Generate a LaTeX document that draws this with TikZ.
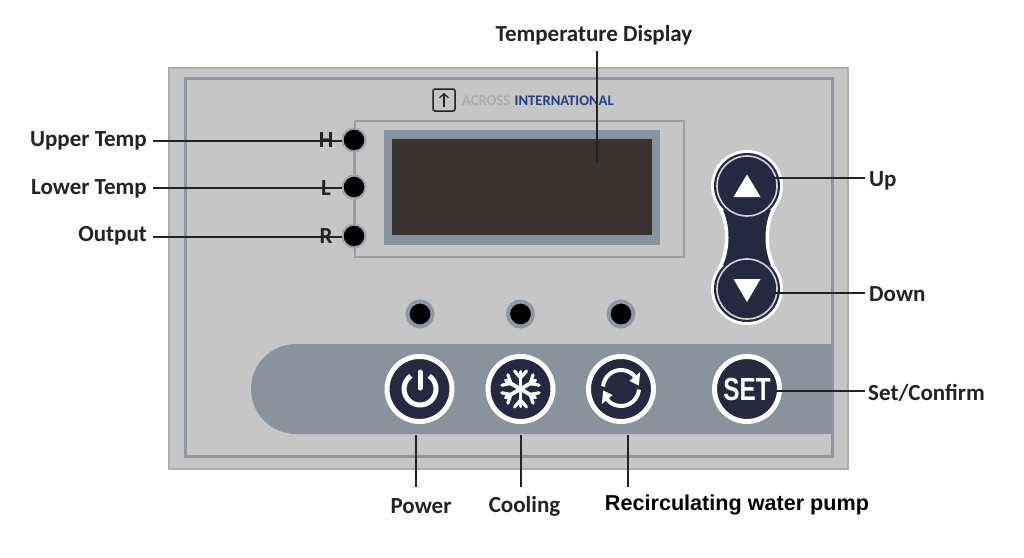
\documentclass[tikz,border=0pt]{standalone}
\usepackage{fontspec}
\setmainfont{Carlito}
\newfontfamily\armain{Liberation Sans}
\usetikzlibrary{arrows.meta}
\definecolor{panel}{HTML}{C6C6C6}
\definecolor{panedge}{HTML}{AEAEAE}
\definecolor{steel}{HTML}{8A939D}
\definecolor{frameline}{HTML}{8F98A2}
\definecolor{screen}{HTML}{38332F}
\definecolor{navy}{HTML}{262840}
\definecolor{ink}{HTML}{232323}
\definecolor{logoblue}{HTML}{24407F}
\tikzset{
  lbl/.style={inner sep=0pt,font=\fontsize{23}{24}\selectfont\bfseries,text=ink},
  lead/.style={draw=ink,line width=1.8pt},
  letter/.style={inner sep=0pt,font=\fontsize{23}{24}\selectfont\bfseries,text=ink},
  dotk/.style={circle,inner sep=0pt,minimum size=23pt,fill=black,draw=frameline!70!panel,line width=2.2pt},
  led/.style={circle,inner sep=0pt,minimum size=25pt,fill=black,draw=frameline,line width=4pt},
  btn/.style={circle,inner sep=0pt,minimum size=65pt,fill=navy,draw=white,line width=5pt},
  icon/.style={draw=white,line cap=round},
  udwhite/.style={circle,inner sep=0pt,minimum size=72pt,fill=white},
  udnavy/.style={circle,inner sep=0pt,minimum size=66pt,fill=navy},
  udring/.style={draw=white!80!navy,line width=1.6pt},
}
\begin{document}
\begin{tikzpicture}[x=1pt,y=-1pt]
\useasboundingbox (0,0) rectangle (1024,557);
\fill[white] (0,0) rectangle (1024,557);
% panel
\filldraw[fill=panel,draw=panedge,line width=2pt] (169,68) rectangle (848,469);
\draw[frameline,line width=3pt] (185,78) rectangle (832,456);
\fill[steel] (832,344) -- (296,344) arc[start angle=270,end angle=90,radius=45] -- (832,434) -- cycle;
% logo
\node[draw=ink,line width=1.5pt,rounded corners=2pt,minimum size=22pt,inner sep=0pt] (logo) at (444,100) {};
\coordinate (la) at (444,93); \coordinate (lb) at (444,107);
\draw[ink,line width=1.2pt,-{Straight Barb[length=4pt,width=9pt]}] (lb) -- (la);
\node[anchor=west,inner sep=0pt,text=black!32,font=\fontsize{15}{16}\selectfont\bfseries] (across) at (462,100.5) {\scalebox{.97}[1]{ACROSS}};
\node[anchor=west,inner sep=0pt,text=logoblue,font=\fontsize{14.6}{16}\selectfont\bfseries] (intl) at (514.5,100.5) {INTERNATIONAL};
% display
\draw[frameline!85!panel,line width=1.8pt] (355,121) rectangle (684,257);
\fill[steel] (384,130) rectangle (660,245);
\fill[screen] (392,139) rectangle (652,235);
% indicators
\node[dotk] (h) at (354,140) {};
\node[dotk] (l) at (354,187) {};
\node[dotk] (r) at (354,236) {};
\draw[frameline!85!panel,line width=1.8pt] (h) -- (l) (l) -- (r);
% LEDs
\node[led] (led1) at (420,314) {};
\node[led] (led2) at (520.5,314) {};
\node[led] (led3) at (621,314) {};
% up down body
\node[udwhite] (upw) at (747,186) {};
\node[udwhite] (downw) at (747,289) {};
\filldraw[fill=navy,draw=white,line width=3.5pt] (720,208) .. controls (729,225) and (729,250) .. (720,267) -- (774,267) .. controls (765,250) and (765,225) .. (774,208) -- cycle;
\node[udnavy] (up) at (747,186) {};
\node[udnavy] (down) at (747,289) {};
\fill[navy] (732,212) rectangle (762,266);
\draw[udring] (up) circle[radius=30];
\draw[udring] (down) circle[radius=30];
\fill[white] (747,174.5) -- (760.5,197) -- (733.5,197) -- cycle;
\fill[white] (733.5,279) -- (760.5,279) -- (747,302) -- cycle;
% round buttons
\node[btn] (power) at (419.5,389) {};
\node[btn] (cool) at (520.5,389) {};
\node[btn] (pump) at (621,389) {};
\node[btn,font=\armain\fontsize{32}{33}\selectfont\bfseries,text=white] (set) at (747,389) {\scalebox{.76}[1]{SET}};
% power icon
\draw[icon,line width=5pt,line cap=butt] (429.2,375.9) arc[start angle=-55,end angle=235,radius=16];
\draw[icon,line width=5pt] (420,372) -- (420,388);
% snowflake
\begin{scope}[shift={(520.5,389)}]
\foreach \a in {0,60,...,300}{
  \begin{scope}[rotate=\a]
    \draw[icon,line width=3.8pt] (0,0) -- (0,-17);
    \draw[icon,line width=3.2pt] (-6,-18) -- (0,-11) -- (6,-18);
  \end{scope}
}
\end{scope}
% pump icon
\begin{scope}[shift={(621,388)}]
\draw[icon,line width=4pt,line cap=butt] (-175:18) arc[start angle=-175,end angle=-38,radius=18];
\draw[icon,line width=4pt,line cap=butt] (5:18) arc[start angle=5,end angle=142,radius=18];
\fill[white] (8.4,-7.1) -- (19.2,-16) -- (17.8,-2.5) -- cycle;
\fill[white] (-8.4,7.1) -- (-19.2,16) -- (-17.8,2.5) -- cycle;
\end{scope}
% leaders
\node[lbl,anchor=east] (tu) at (147,140.5) {Upper Temp};
\node[lbl,anchor=east] (tl) at (147,188.5) {Lower Temp};
\node[lbl,anchor=east] (to) at (147,236) {Output};
\coordinate (au) at (153,141); \coordinate (bu) at (342,141);
\coordinate (al) at (153,188); \coordinate (bl) at (342,188);
\coordinate (ao) at (153,237); \coordinate (bo) at (342,237);
\draw[lead] (au) -- (bu);
\draw[lead] (al) -- (bl);
\draw[lead] (ao) -- (bo);
\node[letter] (th) at (326,140.5) {H};
\node[letter] (tll) at (326,188) {L};
\node[letter] (tr) at (326,236) {R};
\node[lbl] (td) at (594,35) {Temperature Display};
\coordinate (a1) at (597,51); \coordinate (b1) at (597,162);
\draw[lead] (a1) -- (b1);
\node[lbl,anchor=west] (tup) at (869,181) {Up};
\node[lbl,anchor=west] (tdn) at (869,294) {Down};
\node[lbl,anchor=west] (tset) at (868,392.5) {Set/Confirm};
\coordinate (a2) at (865,178); \coordinate (b2) at (772,178);
\coordinate (a3) at (865,293); \coordinate (b3) at (770,293);
\coordinate (a4) at (865,391); \coordinate (b4) at (776,391);
\draw[lead] (a2) -- (b2);
\draw[lead] (a3) -- (b3);
\draw[lead] (a4) -- (b4);
\node[lbl] (tp) at (421,506) {Power};
\node[lbl] (tc) at (524.5,506) {Cooling};
\node[inner sep=0pt,text=black,font=\armain\fontsize{21.6}{24}\selectfont\bfseries] (tw) at (737,504.5) {Recirculating water pump};
\coordinate (a5) at (416,435); \coordinate (b5) at (416,487);
\coordinate (a6) at (521,435); \coordinate (b6) at (521,487);
\coordinate (a7) at (628,435); \coordinate (b7) at (628,487);
\draw[lead] (a5) -- (b5);
\draw[lead] (a6) -- (b6);
\draw[lead] (a7) -- (b7);
\end{tikzpicture}
\end{document}
